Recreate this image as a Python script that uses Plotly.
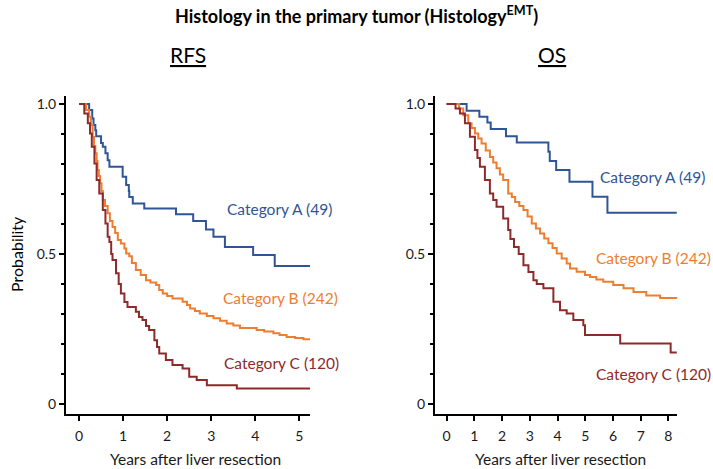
import plotly.graph_objects as go

# ---------------- data ----------------
rfs_a_t = [0, 0.23, 0.30, 0.33, 0.37, 0.39, 0.50, 0.54, 0.60, 0.65, 0.69, 0.99, 1.07, 1.13, 1.14, 1.22, 1.48, 2.20, 2.59, 2.88, 3.05, 3.31, 3.95, 4.44, 5.24]
rfs_a_s = [1.0, 0.98, 0.952, 0.93, 0.913, 0.893, 0.87, 0.858, 0.836, 0.813, 0.791, 0.758, 0.73, 0.71, 0.69, 0.669, 0.652, 0.633, 0.61, 0.582, 0.558, 0.524, 0.497, 0.46, 0.46]

rfs_b_t = [0, 0.16, 0.23, 0.27, 0.31, 0.34, 0.37, 0.40, 0.42, 0.45, 0.48, 0.51, 0.54, 0.59, 0.65, 0.70, 0.76, 0.82, 0.88, 0.95, 1.03, 1.07, 1.14, 1.20, 1.29, 1.40, 1.52, 1.62, 1.75, 1.82, 1.90, 2.00, 2.12, 2.35, 2.45, 2.52, 2.63, 2.74, 2.90, 3.05, 3.20, 3.35, 3.50, 3.65, 4.03, 4.20, 4.41, 4.55, 4.71, 4.90, 5.09, 5.24]
rfs_b_s = [1.0, 0.98, 0.958, 0.93, 0.89, 0.86, 0.836, 0.81, 0.78, 0.76, 0.736, 0.71, 0.68, 0.66, 0.636, 0.61, 0.59, 0.57, 0.547, 0.535, 0.519, 0.502, 0.493, 0.47, 0.447, 0.43, 0.413, 0.405, 0.397, 0.38, 0.369, 0.36, 0.352, 0.341, 0.33, 0.319, 0.31, 0.302, 0.294, 0.286, 0.278, 0.269, 0.262, 0.254, 0.247, 0.242, 0.236, 0.23, 0.224, 0.22, 0.216, 0.216]

rfs_c_t = [0, 0.12, 0.20, 0.25, 0.29, 0.35, 0.40, 0.46, 0.54, 0.60, 0.65, 0.69, 0.73, 0.76, 0.84, 0.90, 0.95, 1.03, 1.10, 1.29, 1.36, 1.44, 1.52, 1.59, 1.71, 1.77, 1.82, 1.97, 2.12, 2.35, 2.50, 2.67, 2.90, 3.58, 5.24]
rfs_c_s = [1.0, 0.969, 0.936, 0.902, 0.858, 0.802, 0.747, 0.702, 0.647, 0.602, 0.558, 0.54, 0.50, 0.48, 0.436, 0.40, 0.369, 0.34, 0.324, 0.308, 0.29, 0.28, 0.26, 0.247, 0.213, 0.19, 0.169, 0.147, 0.13, 0.119, 0.091, 0.08, 0.063, 0.052, 0.052]

os_a_t = [0, 0.72, 1.18, 1.47, 1.59, 2.14, 2.53, 3.67, 3.72, 3.95, 4.43, 5.26, 5.80, 8.30]
os_a_s = [1.0, 0.978, 0.958, 0.939, 0.917, 0.893, 0.872, 0.841, 0.81, 0.78, 0.741, 0.691, 0.638, 0.638]

os_b_t = [0, 0.45, 0.60, 0.78, 0.90, 1.02, 1.14, 1.26, 1.41, 1.56, 1.68, 1.80, 1.92, 2.04, 2.22, 2.35, 2.47, 2.62, 2.77, 2.92, 3.07, 3.22, 3.37, 3.52, 3.67, 3.82, 3.97, 4.15, 4.33, 4.45, 4.69, 4.99, 5.17, 5.40, 5.65, 6.01, 6.38, 6.74, 7.20, 7.70, 8.30]
os_b_s = [1.0, 0.985, 0.963, 0.936, 0.92, 0.902, 0.885, 0.869, 0.845, 0.824, 0.805, 0.786, 0.765, 0.747, 0.702, 0.69, 0.674, 0.66, 0.647, 0.625, 0.602, 0.585, 0.569, 0.552, 0.536, 0.52, 0.502, 0.485, 0.469, 0.452, 0.441, 0.43, 0.424, 0.415, 0.408, 0.397, 0.386, 0.374, 0.362, 0.354, 0.352]

os_c_t = [0, 0.32, 0.48, 0.66, 0.84, 1.02, 1.11, 1.20, 1.38, 1.56, 1.68, 1.80, 2.04, 2.22, 2.30, 2.43, 2.60, 2.77, 2.95, 3.13, 3.25, 3.49, 3.85, 4.09, 4.33, 4.57, 4.93, 4.99, 6.26, 8.08, 8.30]
os_c_s = [1.0, 0.985, 0.969, 0.936, 0.891, 0.847, 0.82, 0.791, 0.747, 0.702, 0.68, 0.658, 0.619, 0.58, 0.55, 0.524, 0.50, 0.463, 0.44, 0.413, 0.40, 0.386, 0.341, 0.313, 0.302, 0.28, 0.263, 0.23, 0.202, 0.172, 0.172]

category_labels = ["Category A (49)", "Category B (242)", "Category C (120)"]
y_tickvals = [0, 0.5, 1.0]
y_ticktext = ["0", "0.5", "1.0"]
rfs_xticks = [0, 1, 2, 3, 4, 5]
os_xticks = [0, 1, 2, 3, 4, 5, 6, 7, 8]

# ---------------- styling ----------------
FONT = "Lato, 'Open Sans', sans-serif"
C_A = "#2F5597"
C_B = "#ED7D31"
C_C = "#8E2A2A"
W, H = 713, 469

fig = go.Figure()

def add_curve(t, s, color, xa, ya):
    fig.add_trace(go.Scatter(x=t, y=s, mode="lines", line=dict(color=color, width=2, shape="hv"),
                             xaxis=xa, yaxis=ya, showlegend=False, hoverinfo="skip"))

add_curve(rfs_a_t, rfs_a_s, C_A, "x", "y")
add_curve(rfs_b_t, rfs_b_s, C_B, "x", "y")
add_curve(rfs_c_t, rfs_c_s, C_C, "x", "y")
add_curve(os_a_t, os_a_s, C_A, "x2", "y2")
add_curve(os_b_t, os_b_s, C_B, "x2", "y2")
add_curve(os_c_t, os_c_s, C_C, "x2", "y2")

ydom = [1 - 414 / H, 1 - 96 / H]
axis_common = dict(showline=True, linecolor="black", linewidth=2, showgrid=False, zeroline=False,
                   ticks="outside", tickcolor="black", ticklen=5, tickwidth=1.5,
                   tickfont=dict(family=FONT, size=14, color="#1a1a1a"))

yaxis_common = dict(axis_common, range=[-0.033, 1.027], domain=ydom, tickvals=y_tickvals,
                    ticktext=y_ticktext,
                    minor=dict(dtick=0.1, tick0=0, ticks="outside", ticklen=3, tickcolor="black", tickwidth=1.5))

fig.update_layout(
    width=W, height=H,
    margin=dict(l=0, r=0, t=0, b=0),
    paper_bgcolor="white", plot_bgcolor="white",
    xaxis=dict(axis_common, domain=[66 / W, 310 / W], range=[-0.295, 5.24], tickvals=rfs_xticks,
               anchor="y", ticklabelstandoff=3),
    yaxis=dict(yaxis_common, anchor="x"),
    xaxis2=dict(axis_common, domain=[435 / W, 677.3 / W], range=[-0.42, 8.32], tickvals=os_xticks,
                anchor="y2", ticklabelstandoff=3),
    yaxis2=dict(yaxis_common, anchor="x2"),
)

ann = []
ann.append(dict(text="<b>Histology in the primary tumor (Histology<sup>EMT</sup>)</b>", x=0.5, y=1 - 15 / H,
                xref="paper", yref="paper", showarrow=False, xanchor="center", yanchor="middle",
                font=dict(family=FONT, size=18, color="black")))
ann.append(dict(text="<u>RFS</u>", x=188 / W, y=1 - 55 / H, xref="paper", yref="paper", showarrow=False,
                xanchor="center", yanchor="middle", font=dict(family=FONT, size=21, color="black")))
ann.append(dict(text="<u>OS</u>", x=552 / W, y=1 - 55 / H, xref="paper", yref="paper", showarrow=False,
                xanchor="center", yanchor="middle", font=dict(family=FONT, size=21, color="black")))
ann.append(dict(text="Probability", x=16 / W, y=1 - 254 / H, xref="paper", yref="paper", showarrow=False,
                textangle=-90, xanchor="center", yanchor="middle", font=dict(family=FONT, size=16, color="black")))
for xc in (195, 560):
    ann.append(dict(text="Years after liver resection", x=xc / W, y=1 - 459 / H, xref="paper", yref="paper",
                    showarrow=False, xanchor="center", yanchor="middle",
                    font=dict(family=FONT, size=15.5, color="#1a1a1a")))

rfs_label_pos = [(3.31, 0.65), (3.22, 0.354), (3.24, 0.137)]
os_label_pos = [(5.46, 0.758), (5.30, 0.487), (5.30, 0.10)]
for (lab, col, (lx, ly)) in zip(category_labels, [C_A, C_B, C_C], rfs_label_pos):
    ann.append(dict(text=lab, x=lx, y=ly, xref="x", yref="y", showarrow=False, xanchor="left",
                    yanchor="middle", font=dict(family=FONT, size=15.5, color=col)))
for (lab, col, (lx, ly)) in zip(category_labels, [C_A, C_B, C_C], os_label_pos):
    ann.append(dict(text=lab, x=lx, y=ly, xref="x2", yref="y2", showarrow=False, xanchor="left",
                    yanchor="middle", font=dict(family=FONT, size=15.5, color=col)))

fig.update_layout(annotations=ann)
fig.write_html("out.html", config={"displayModeBar": False},
               post_script="document.body.style.margin='0px';document.body.style.overflow='hidden';")
